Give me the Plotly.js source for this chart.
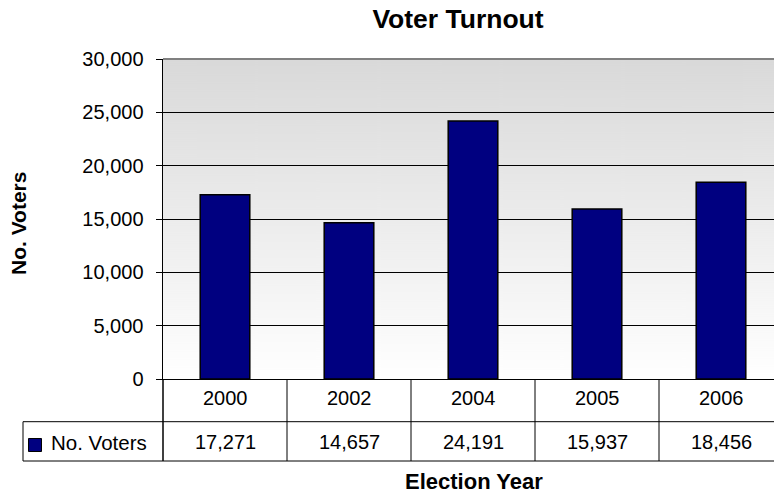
<!DOCTYPE html>
<html><head><meta charset="utf-8">
<script src="https://cdn.plot.ly/plotly-3.0.1.min.js"></script>
<style>html,body{margin:0;padding:0;background:#fff}#chart{width:774px;height:493px}</style>
</head><body><div id="chart"></div>
<script>
// ---- data ----
const years = ['2000', '2002', '2004', '2005', '2006'];
const voters = [17271, 14657, 24191, 15937, 18456];
const seriesName = 'No. Voters';
const yTicks = [0, 5000, 10000, 15000, 20000, 25000, 30000];
const chartTitle = 'Voter Turnout';
const xTitle = 'Election Year';
const yTitle = 'No. Voters';

// ---- layout constants (pixels) ----
const W = 774, H = 493, L = 163, T = 59, B = 379;
const plotW = W - L, plotH = B - T, colW = 124;
const FONT = 'Liberation Sans, Arial, sans-serif';
const px2x = p => (p - L) / plotW;
const py2y = p => (B - p) / plotH;

// gradient background image
const cv = document.createElement('canvas');
cv.width = 10; cv.height = 320;
const cx = cv.getContext('2d');
const g = cx.createLinearGradient(0, 0, 0, 320);
g.addColorStop(0, '#d9d9d9');
g.addColorStop(1, '#ffffff');
cx.fillStyle = g; cx.fillRect(0, 0, 10, 320);
const bgURL = cv.toDataURL('image/png');

const rowMid = 421.7, rowBot = 461, tableLeft = 23;
const shapes = [];
const line = (x0, y0, x1, y1, color, width) => ({type: 'line', xref: 'paper', yref: 'paper', x0, y0, x1, y1, line: {color: color || '#000', width: width || 1}, layer: 'above'});
shapes.push(line(px2x(tableLeft), py2y(rowMid), px2x(L + colW * years.length), py2y(rowMid)));
shapes.push(line(px2x(tableLeft), py2y(rowBot), px2x(L + colW * years.length), py2y(rowBot)));
shapes.push(line(px2x(tableLeft), py2y(rowMid), px2x(tableLeft), py2y(rowBot)));
shapes.push(line(0, py2y(rowBot), 0, 0, '#000', 1.5));
for (let i = 1; i < years.length; i++) {
  const xp = i * colW / plotW;
  shapes.push(line(xp, py2y(rowBot), xp, 0));
}
shapes.push(line(0, 1, 1, 1, '#808080', 2));
shapes.push({type: 'rect', xref: 'paper', yref: 'paper', x0: px2x(28.5), x1: px2x(41.5), y0: py2y(451.5), y1: py2y(438.5), fillcolor: '#000080', line: {color: '#000', width: 1}});

const annotations = [];
years.forEach((yr, i) => {
  annotations.push({xref: 'x', yref: 'paper', x: i, y: py2y(398), text: yr, showarrow: false, font: {family: FONT, size: 20, color: '#000'}, xanchor: 'center', yanchor: 'middle'});
  annotations.push({xref: 'x', yref: 'paper', x: i, y: py2y(442), text: voters[i].toLocaleString('en-US'), showarrow: false, font: {family: FONT, size: 20, color: '#000'}, xanchor: 'center', yanchor: 'middle'});
});
annotations.push({xref: 'paper', yref: 'paper', x: px2x(49), y: py2y(442), text: seriesName, showarrow: false, font: {family: FONT, size: 20.5, color: '#000'}, xanchor: 'left', yanchor: 'middle'});
annotations.push({xref: 'paper', yref: 'paper', x: px2x(474), y: py2y(481), text: xTitle, showarrow: false, font: {family: FONT, size: 22, color: '#000', weight: 700}, xanchor: 'center', yanchor: 'middle'});
annotations.push({xref: 'paper', yref: 'paper', x: px2x(18), y: py2y(224), text: yTitle, textangle: -90, showarrow: false, font: {family: FONT, size: 21, color: '#000', weight: 700}, xanchor: 'center', yanchor: 'middle'});

const trace = {
  type: 'bar', x: years, y: voters, name: seriesName, width: 0.4,
  marker: {color: '#000080', line: {color: '#000', width: 1.5}},
  hoverinfo: 'skip'
};

const layout = {
  width: W, height: H,
  margin: {l: L, r: 0, t: T, b: H - B, pad: 0},
  paper_bgcolor: '#fff', plot_bgcolor: 'rgba(0,0,0,0)',
  showlegend: false,
  title: {text: chartTitle, font: {family: FONT, size: 26.5, color: '#000', weight: 700}, x: 458 / W, xref: 'container', xanchor: 'center', y: 1 - 19 / H, yref: 'container', yanchor: 'middle'},
  xaxis: {type: 'category', range: [-0.5, -0.5 + plotW / colW], showticklabels: false, ticks: '', showgrid: false, showline: true, linecolor: '#000', linewidth: 1, zeroline: false, fixedrange: true},
  yaxis: {range: [0, 30000], tickvals: yTicks, tickformat: ',', ticks: 'outside', ticklen: 6, tickcolor: '#000', tickwidth: 1, ticklabelstandoff: 8,
    tickfont: {family: FONT, size: 20, color: '#000'}, showline: true, linecolor: '#000', linewidth: 1.5, showgrid: true, gridcolor: '#000', gridwidth: 1, zeroline: false, fixedrange: true},
  images: [{source: bgURL, xref: 'paper', yref: 'paper', x: 0, y: 1, sizex: 1, sizey: 1, sizing: 'stretch', xanchor: 'left', yanchor: 'top', layer: 'below'}],
  shapes, annotations,
  bargap: 0.6
};

Plotly.newPlot('chart', [trace], layout, {displayModeBar: false, staticPlot: true});
</script>
</body></html>
